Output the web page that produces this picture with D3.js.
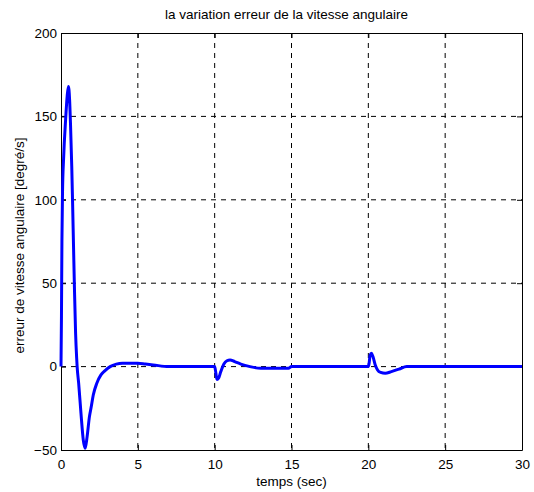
<!DOCTYPE html>
<html><head><meta charset="utf-8">
<script src="https://cdn.jsdelivr.net/npm/d3@7"></script>
<style>
body{margin:0;background:#fff;}
text{font-family:"Liberation Sans",Arial,sans-serif;}
</style></head>
<body><svg id="c" width="534" height="492"></svg>
<script>
const titleText = "la variation erreur de la vitesse angulaire";
const xLabel = "temps (sec)";
const yLabel = "erreur de vitesse angulaire [degré/s]";
const xTicks = [0,5,10,15,20,25,30];
const yTicks = [-50,0,50,100,150,200];
const timeValues = [0,0.03,0.06,0.1,0.17,0.3,0.4,0.48,0.56,0.62,0.7,0.75,0.82,0.88,0.95,1.02,1.05,1.15,1.3,1.45,1.57,1.7,1.85,1.95,2.1,2.33,2.6,2.87,3.2,3.6,4.0,5.0,5.5,6.0,7.0,10.0,10.08,10.15,10.25,10.4,10.6,10.8,11.0,11.3,11.7,12.3,13.0,14.8,15.0,20.0,20.05,20.12,20.2,20.3,20.45,20.6,20.8,21.1,21.5,22.0,22.5,30];
const errorValues = [0,30,75,105,125,148,162,168,160,145,120,100,70,45,20,5,0,-10,-28,-44,-49,-42,-30,-25,-17,-10,-5,-2.4,0,1.5,2,2,1.5,1,0,0,-4,-7.7,-7,-3,1.5,3.5,4,3,1.5,0,-1,-1,0,0,2,7,8,6,1,-2,-3.5,-4,-3,-1.5,0,0];

const svg = d3.select("#c");
const L=61, R=522, T=33, B=450;
const FS = "13.5px";
const x = d3.scaleLinear().domain([0,30]).range([L,R]);
const y = d3.scaleLinear().domain([-50,200]).range([B,T]);

// grid
const g = svg.append("g");
g.selectAll(".gx").data(xTicks.slice(1,-1)).enter().append("line")
 .attr("x1",d=>x(d)).attr("x2",d=>x(d)).attr("y1",T).attr("y2",B)
 .attr("stroke","#000").attr("stroke-width",1).attr("stroke-dasharray","5,5");
g.selectAll(".gy").data(yTicks.slice(1,-1)).enter().append("line")
 .attr("y1",d=>y(d)).attr("y2",d=>y(d)).attr("x1",L).attr("x2",R)
 .attr("stroke","#000").attr("stroke-width",1).attr("stroke-dasharray","5,5");

// axes
const xa = svg.append("g").attr("transform",`translate(0,${B})`)
 .call(d3.axisBottom(x).tickValues(xTicks).tickSizeInner(-5).tickSizeOuter(0).tickPadding(9));
const xt = svg.append("g").attr("transform",`translate(0,${T})`)
 .call(d3.axisTop(x).tickValues(xTicks).tickSizeInner(-5).tickSizeOuter(0).tickFormat(""));
const ya = svg.append("g").attr("transform",`translate(${L},0)`)
 .call(d3.axisLeft(y).tickValues(yTicks).tickSizeInner(-5).tickSizeOuter(0).tickPadding(4));
const yr = svg.append("g").attr("transform",`translate(${R},0)`)
 .call(d3.axisRight(y).tickValues(yTicks).tickSizeInner(-5).tickSizeOuter(0).tickFormat(""));
[xa,xt,ya,yr].forEach(a=>{
  a.selectAll("path").attr("stroke","#000").attr("stroke-width",1);
  a.selectAll("line").attr("stroke","#000");
  a.selectAll("text").attr("font-size",FS).attr("fill","#000").attr("font-family","Liberation Sans, Arial, sans-serif");
});

// line
const line = d3.line().x((d,i)=>x(timeValues[i])).y(d=>y(d)).curve(d3.curveMonotoneX);
svg.append("path").datum(errorValues).attr("d",line)
 .attr("fill","none").attr("stroke","#0000ff").attr("stroke-width",3).attr("stroke-linejoin","round");

// labels
svg.append("text").attr("x",(L+R)/2 - 5).attr("y",19).attr("text-anchor","middle")
 .attr("font-size",FS).text(titleText);
svg.append("text").attr("x",(L+R)/2).attr("y",486).attr("text-anchor","middle")
 .attr("font-size",FS).text(xLabel);
svg.append("text").attr("transform",`translate(24,${(T+B)/2 + 4}) rotate(-90)`).attr("text-anchor","middle")
 .attr("font-size",FS).text(yLabel);
</script></body></html>
